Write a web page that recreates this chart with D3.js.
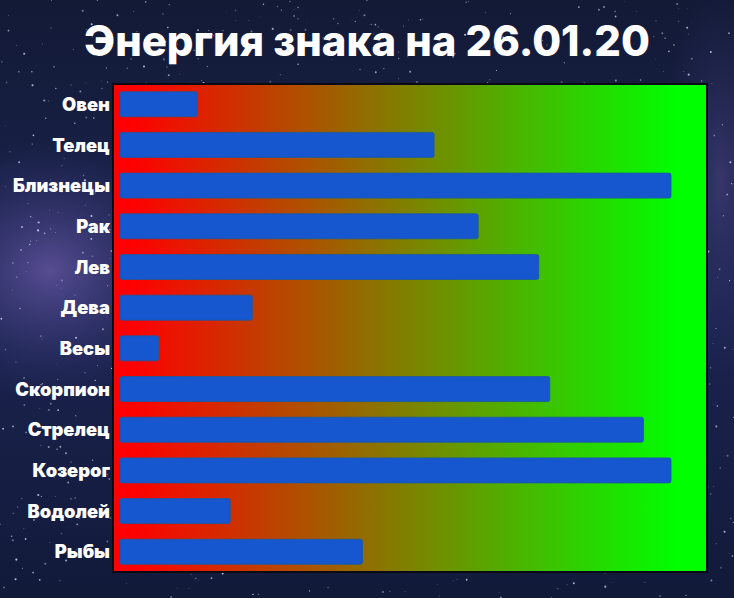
<!DOCTYPE html>
<html><head><meta charset="utf-8">
<script src="https://cdn.jsdelivr.net/npm/d3@7"></script>
<style>html,body{margin:0;padding:0;background:#151d3a;overflow:hidden}</style>
</head><body>
<script>
const signs = ["Овен","Телец","Близнецы","Рак","Лев","Дева","Весы","Скорпион","Стрелец","Козерог","Водолей","Рыбы"];
const energy = [14, 57, 100, 65, 76, 24, 7, 78, 95, 100, 20, 44];
const title = "Энергия знака на 26.01.20";

const W = 734, H = 598;
const plot = {x0: 113, x1: 707, y0: 84, y1: 572};

const svg = d3.select("body").append("svg").attr("width", W).attr("height", H);
const defs = svg.append("defs");

// background: night sky
const bg = defs.append("linearGradient").attr("id","bg").attr("x1",0).attr("y1",0).attr("x2",0).attr("y2",1);
bg.append("stop").attr("offset",0).attr("stop-color","#131a36");
bg.append("stop").attr("offset",0.5).attr("stop-color","#1b2450");
bg.append("stop").attr("offset",1).attr("stop-color","#121a3a");
svg.append("rect").attr("width",W).attr("height",H).attr("fill","url(#bg)");
const glow = defs.append("radialGradient").attr("id","glow");
glow.append("stop").attr("offset",0).attr("stop-color","#6a5aa8").attr("stop-opacity",0.75);
glow.append("stop").attr("offset",1).attr("stop-color","#3a3a80").attr("stop-opacity",0);
svg.append("ellipse").attr("cx",50).attr("cy",270).attr("rx",150).attr("ry",130).attr("fill","url(#glow)");
svg.append("ellipse").attr("cx",720).attr("cy",180).attr("rx",60).attr("ry",200).attr("fill","url(#glow)").attr("opacity",0.5);
// deterministic star field (decoration)
let seed = 12345;
const rnd = () => (seed = (seed * 16807) % 2147483647) / 2147483647;
const stars = svg.append("g");
for (let i = 0; i < 1100; i++) {
  stars.append("circle").attr("cx", rnd()*W).attr("cy", rnd()*H)
    .attr("r", 0.3 + rnd()*0.8).attr("fill","#dfe6ff").attr("opacity", 0.25 + rnd()*0.6);
}

// plot background gradient red -> green
const pg = defs.append("linearGradient").attr("id","pg").attr("x1",0).attr("x2",1).attr("y1",0).attr("y2",0);
pg.append("stop").attr("offset",0.03).attr("stop-color","#ff0000");
pg.append("stop").attr("offset",0.95).attr("stop-color","#00ff00");
svg.append("rect").attr("x",plot.x0).attr("y",plot.y0).attr("width",plot.x1-plot.x0).attr("height",plot.y1-plot.y0)
  .attr("fill","url(#pg)").attr("stroke","#0a0a14").attr("stroke-width",2);

const x = d3.scaleLinear().domain([0,100]).range([120, 671]);
const y = d3.scaleBand().domain(signs).range([plot.y0, plot.y1]).paddingInner(0.385).paddingOuter(0.19);

svg.append("g").selectAll("rect").data(signs).join("rect")
  .attr("x", x(0)).attr("y", d => y(d))
  .attr("width", (d,i) => x(energy[i]) - x(0)).attr("height", y.bandwidth())
  .attr("rx", 2).attr("fill","#1656cf").attr("stroke","#1a5aa0").attr("stroke-width",0.8);

// labels via axis
const ax = svg.append("g").attr("transform", `translate(${plot.x0 - 3},0)`).call(d3.axisLeft(y).tickSize(0).tickPadding(0));
ax.select(".domain").remove();
ax.selectAll("text").attr("fill","#ffffff").attr("font-family","Inter, 'Open Sans', sans-serif")
  .attr("font-weight",900).attr("font-size",14).attr("dy","0.36em");
let maxW = 0; ax.selectAll("text").each(function(){ maxW = Math.max(maxW, this.getComputedTextLength()); });
ax.selectAll("text").attr("font-size", 14 * 97 / maxW);

const t = svg.append("text").attr("x", W/2).attr("y", 56).attr("text-anchor","middle")
  .attr("fill","#ffffff").attr("font-family","Inter, 'Open Sans', sans-serif").attr("font-weight",800)
  .attr("font-size",40).text(title);
const tw = t.node().getComputedTextLength();
t.attr("font-size", 40 * 566 / tw);
</script>
</body></html>
